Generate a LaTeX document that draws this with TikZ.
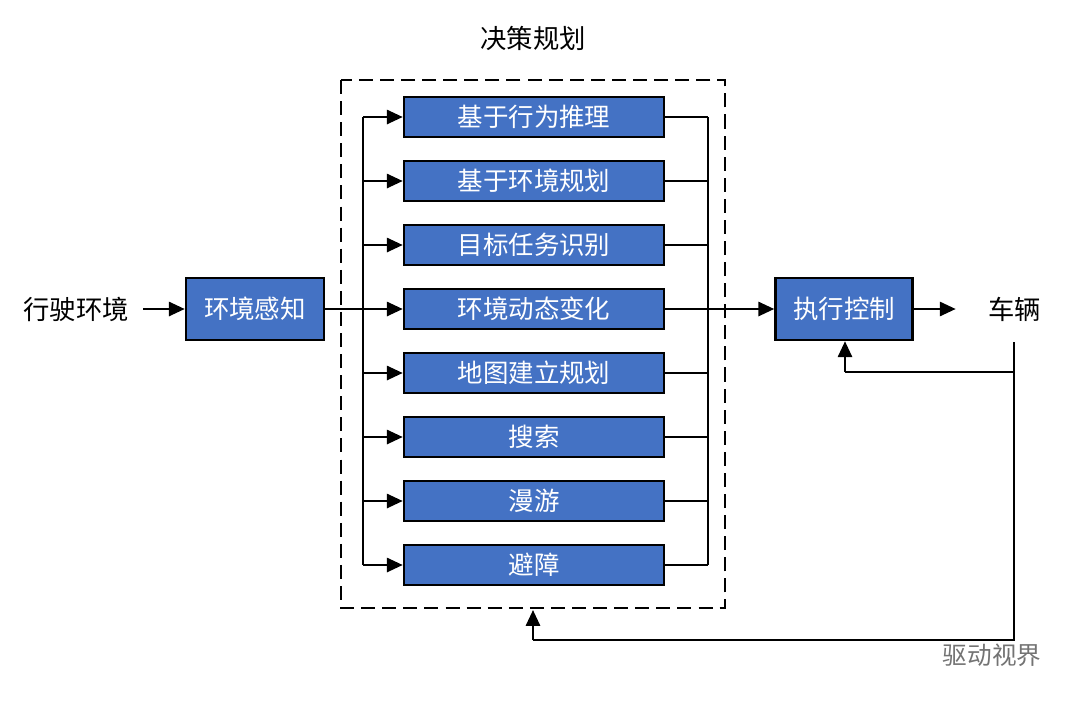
\documentclass[tikz,border=0pt]{standalone}
\usepackage{fontspec}
\setmainfont{Noto Sans CJK SC}
\usetikzlibrary{arrows.meta}
\begin{document}
\begin{tikzpicture}[x=0.02cm,y=-0.02cm,
 box/.style={draw=black,line width=1.4pt,fill={rgb,255:red,68;green,114;blue,196},text=white,font=\fontsize{14.5}{16}\selectfont,inner sep=0pt},
 arr/.style={line width=1.4pt,-{Triangle[length=9pt,width=8pt]}},
 ln/.style={line width=1.4pt},
 lbl/.style={font=\fontsize{15}{17}\selectfont}]
\useasboundingbox (0,0) rectangle (1080,701);
\node[lbl] (title) at (533,38) {决策规划};
\draw[line width=1.5pt,dash pattern=on 8pt off 4pt] (341,80) rectangle (725,608);
\coordinate (dashb) at (533,610);
\foreach \i/\t in {1/基于行为推理,2/基于环境规划,3/目标任务识别,4/环境动态变化,5/地图建立规划,6/搜索,7/漫游,8/避障}{
 \node[box,minimum width=260*0.02cm,minimum height=40*0.02cm] (b\i) at (534,{117+64*(\i-1)}) {\t};
 \coordinate (l\i) at (363,{117+64*(\i-1)});
 \coordinate (r\i) at (708,{117+64*(\i-1)});
 \draw[arr] (l\i) -- (b\i.west);
 \draw[ln] (b\i.east) -- (r\i);
}
\draw[ln] (l1) -- (l8);
\draw[ln] (r1) -- (r8);
\node[lbl,anchor=east] (env) at (135,309) {行驶环境};
\node[box,minimum width=138*0.02cm,minimum height=62*0.02cm] (perc) at (255,309) {环境感知};
\node[box,minimum width=137*0.02cm,minimum height=62*0.02cm] (exec) at (844,309) {执行控制};
\node[lbl,anchor=west] (car) at (982,309) {车辆};
\draw[arr] (env.east |- perc.west) ++(8,0) -- (perc.west);
\draw[ln] (perc.east) -- (l4);
\draw[arr] (r4) -- (exec.west);
\draw[arr] (exec.east) -- ++(42,0);
\coordinate (c1) at (1014,342);
\coordinate (c2) at (1014,372);
\coordinate (c3) at (1014,640);
\coordinate (c4) at (533,640);
\coordinate (c5) at (845,372);
\draw[ln] (c1) -- (c3) -- (c4);
\draw[arr] (c4) -- (dashb);
\draw[ln] (c2) -- (c5);
\draw[arr] (c5) -- (exec.south -| c5);
\node[font=\fontsize{14}{16}\selectfont,text=black!55] (wm) at (992,655) {驱动视界};
\end{tikzpicture}
\end{document}
